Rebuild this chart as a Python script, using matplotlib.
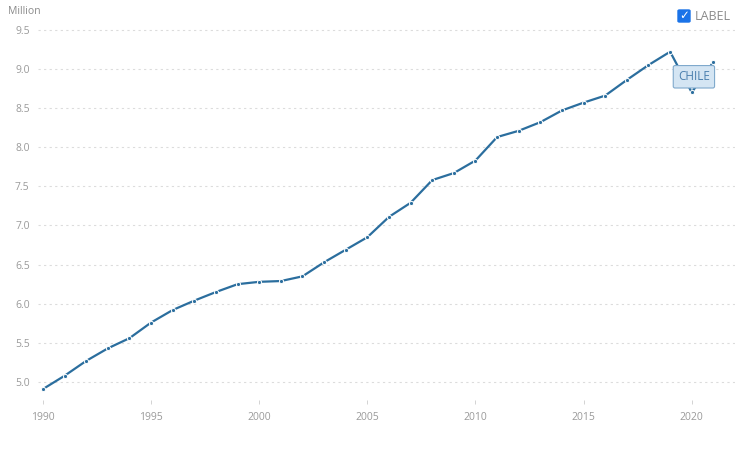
import numpy as np
import matplotlib.pyplot as plt
from matplotlib.patches import FancyBboxPatch

plt.rcParams['font.family'] = ['Open Sans', 'DejaVu Sans']

years = list(range(1990, 2022))
values = [4.91, 5.08, 5.27, 5.43, 5.56, 5.76, 5.92, 6.04, 6.15, 6.25,
          6.28, 6.29, 6.35, 6.53, 6.69, 6.85, 7.11, 7.29, 7.58, 7.67,
          7.83, 8.13, 8.21, 8.32, 8.47, 8.57, 8.66, 8.86, 9.05, 9.22,
          8.70, 9.09]
yticks = [5.0, 5.5, 6.0, 6.5, 7.0, 7.5, 8.0, 8.5, 9.0, 9.5]
xticks = [1990, 1995, 2000, 2005, 2010, 2015, 2020]
series_name = "CHILE"

line_col = '#2b6e9e'
text_col = '#9a9a9a'

fig = plt.figure(figsize=(7.4, 4.63), dpi=100)
ax = fig.add_axes([38/740, 1 - 400/463, (735-38)/740, (400-22)/463])

ax.plot(years, values, color=line_col, lw=1.6, marker='o', ms=3.0,
        mfc=line_col, mec='white', mew=0.7, solid_joinstyle='round')

ax.set_xlim(1989.77, 2022.0)
ax.set_ylim(4.77, 9.6)
ax.set_yticks(yticks)
ax.set_yticklabels([f"{v:.1f}" for v in yticks])
ax.set_xticks(xticks)
ax.set_xticklabels([str(x) for x in xticks])
ax.grid(axis='y', color='#dcdcdc', ls=(0, (2, 3)), lw=0.8)
ax.grid(axis='x', visible=False)
ax.set_axisbelow(True)
for s in ax.spines.values():
    s.set_visible(False)
ax.tick_params(axis='y', length=0, labelsize=7.5, labelcolor=text_col, pad=6)
ax.tick_params(axis='x', length=3, width=0.6, color='#cccccc', labelsize=7.5,
               labelcolor=text_col, pad=6, direction='out')

fig.text(8/740, 1 - 11/463, "Million", fontsize=7.5, color='#8a8a8a',
         va='center', ha='left')

# legend checkbox
cb = FancyBboxPatch((678/740, 1 - 22/463), 12/740, 12/463,
                    boxstyle="round,pad=0.0,rounding_size=0.002",
                    transform=fig.transFigure, fc='#1a73e8', ec='#1a73e8')
fig.patches.append(cb)
fig.text(684/740, 1 - 16/463, "\u2713", fontsize=8.5, color='white',
         ha='center', va='center', fontweight='bold', family='DejaVu Sans')
fig.text(695/740, 1 - 16/463, "LABEL", fontsize=9, color='#8a8a8a',
         va='center', ha='left')

# series tag
ax.annotate(series_name, xy=(2020.1, 8.9), ha='center', va='center',
            fontsize=8.5, color='#4a7fae',
            bbox=dict(boxstyle='round,pad=0.4,rounding_size=0.15',
                      fc='#d4e5f3', ec='#7fa9cc', lw=0.8))

fig.savefig('out.png', dpi=100, facecolor='white')
